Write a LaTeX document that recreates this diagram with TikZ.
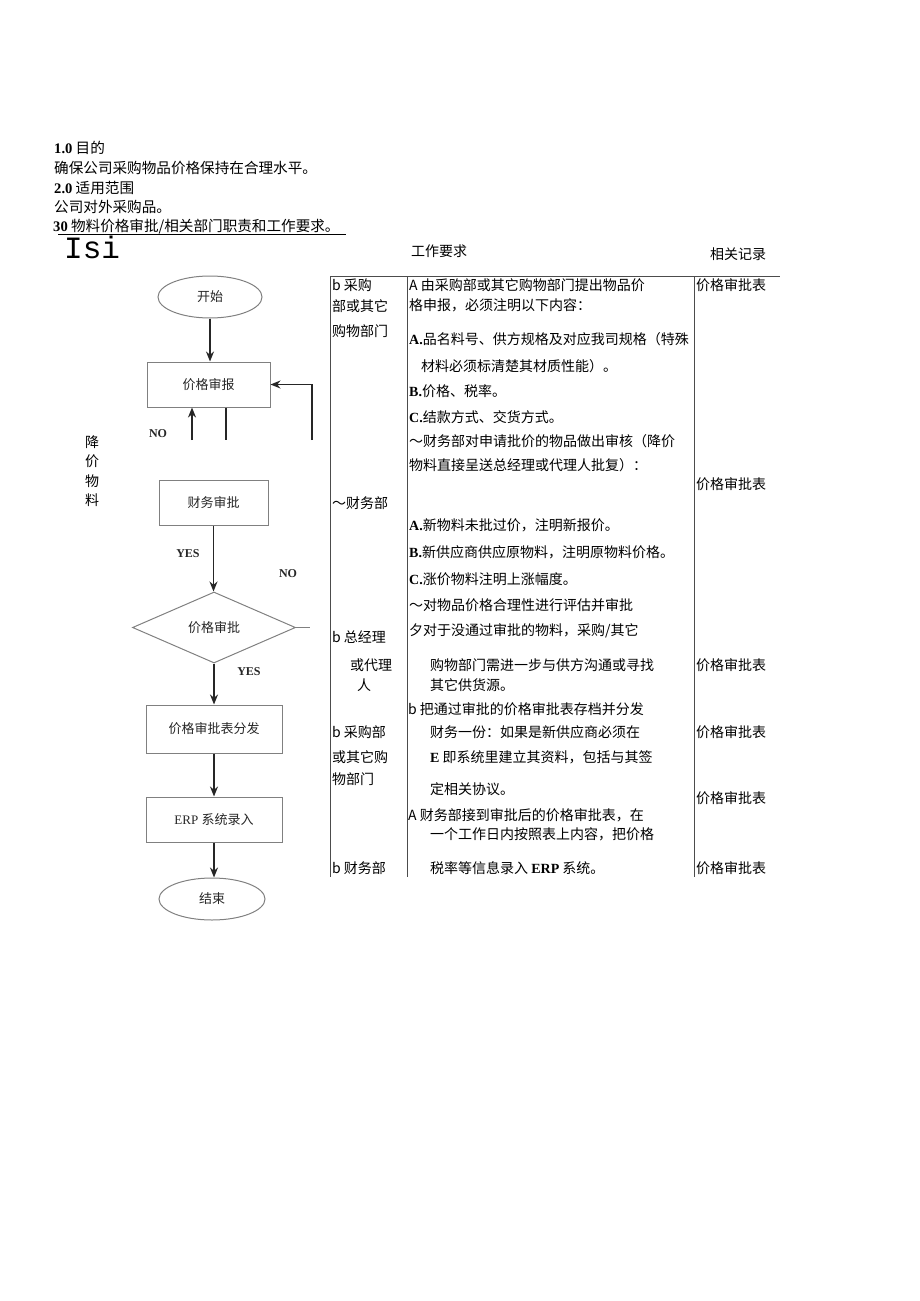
\documentclass[tikz,border=0pt]{standalone}
\usepackage{fontspec}
\setmainfont{Liberation Serif}
\setmonofont{Liberation Mono}
\newfontfamily\cjk{Noto Sans CJK SC}
\usetikzlibrary{arrows.meta,shapes.geometric}

\newcommand\lb[1]{{\rmfamily\bfseries #1}}

\begin{document}
\begin{tikzpicture}[x=1pt, y=-1pt,
    riga/.style={anchor=west, inner sep=0pt, font=\cjk\fontsize{14}{16}\selectfont},
    testa/.style={riga, font=\cjk\fontsize{14.6}{16}\selectfont},
    blocco/.style={draw=black!50, line width=1pt, inner sep=0pt,
        font=\cjk\fontsize{13}{15}\selectfont, text=black!85},
    freccia/.style={-{Stealth[length=10pt,width=8pt]}, line width=1.8pt, black!85},
    filo/.style={line width=1.8pt, black!85},
    esito/.style={inner sep=0pt, font=\rmfamily\bfseries\fontsize{12}{14}\selectfont, text=black!85},
    bordo/.style={line width=0.8pt, black!70}]

    \useasboundingbox (0,0) rectangle (920,1301);

    % -- Intestazione --
    \node[testa] (h1) at (54,148) {\lb{1.0} 目的};
    \node[testa] (h2) at (54,168) {确保公司采购物品价格保持在合理水平。};
    \node[testa] (h3) at (54,188) {\lb{2.0} 适用范围};
    \node[testa] (h4) at (54,207) {公司对外采购品。};
    \node[testa] (h5) at (53,227) {\lb{30} 物料价格审批/相关部门职责和工作要求。};
    \draw[line width=0.7pt] ([xshift=5pt]h5.south west) -- ([xshift=6pt]h5.south east);
    \node[anchor=west, inner sep=0pt, font=\ttfamily\fontsize{31}{31}\selectfont] (isi) at (64,247) {Isi};

    \node[riga] (k1) at (411,251) {工作要求};
    \node[riga] (k2) at (710,254) {相关记录};

    % -- Tabella --
    \draw[bordo] (330,276) -- (780,276);
    \foreach \x in {330,407,694}
        \draw[bordo] (\x,276) -- (\x,877);

    % colonna dei reparti
    \node[riga] (a1) at (332,285) {b 采购};
    \node[riga] (a2) at (332,306) {部或其它};
    \node[riga] (a3) at (332,331) {购物部门};
    \node[riga] (a4) at (332,503) {～财务部};
    \node[riga] (a5) at (332,637) {b 总经理};
    \node[riga] (a6) at (350,665) {或代理};
    \node[riga] (a7) at (357,685) {人};
    \node[riga] (a8) at (332,732) {b 采购部};
    \node[riga] (a9) at (332,757) {或其它购};
    \node[riga] (a10) at (332,779) {物部门};
    \node[riga] (a11) at (332,868) {b 财务部};

    % colonna dei requisiti
    \node[riga] (b1) at (409,285) {A 由采购部或其它购物部门提出物品价};
    \node[riga] (b2) at (409,305) {格申报，必须注明以下内容：};
    \node[riga] (b3) at (409,339) {\lb{A.}品名料号、供方规格及对应我司规格（特殊};
    \node[riga] (b4) at (421,366) {材料必须标清楚其材质性能）。};
    \node[riga] (b5) at (409,391) {\lb{B.}价格、税率。};
    \node[riga] (b6) at (409,417) {\lb{C.}结款方式、交货方式。};
    \node[riga] (b7) at (409,441) {～财务部对申请批价的物品做出审核（降价};
    \node[riga] (b8) at (409,465) {物料直接呈送总经理或代理人批复）：};
    \node[riga] (b9) at (409,525) {\lb{A.}新物料未批过价，注明新报价。};
    \node[riga] (b10) at (409,552) {\lb{B.}新供应商供应原物料，注明原物料价格。};
    \node[riga] (b11) at (409,579) {\lb{C.}涨价物料注明上涨幅度。};
    \node[riga] (b12) at (409,605) {～对物品价格合理性进行评估并审批};
    \node[riga] (b13) at (409,631) {夕对于没通过审批的物料，采购/其它};
    \node[riga] (b14) at (430,665) {购物部门需进一步与供方沟通或寻找};
    \node[riga] (b15) at (430,685) {其它供货源。};
    \node[riga] (b16) at (408,709) {b 把通过审批的价格审批表存档并分发};
    \node[riga] (b17) at (430,732) {财务一份：如果是新供应商必须在};
    \node[riga] (b18) at (430,757) {\lb{E} 即系统里建立其资料，包括与其签};
    \node[riga] (b19) at (430,789) {定相关协议。};
    \node[riga] (b20) at (408,815) {A 财务部接到审批后的价格审批表，在};
    \node[riga] (b21) at (430,834) {一个工作日内按照表上内容，把价格};
    \node[riga] (b22) at (430,868) {税率等信息录入 \lb{ERP} 系统。};

    % colonna dei record
    \foreach \y [count=\i] in {285,484,665,732,798,868}
        \node[riga] (c\i) at (696,\y) {价格审批表};

    % -- Diagramma di flusso --
    \node[blocco, ellipse, minimum width=104pt, minimum height=42pt] (start) at (210,297) {开始};
    \node[blocco, minimum width=123pt, minimum height=45pt] (report) at (208.5,384.5) {价格审报};
    \node[blocco, minimum width=109pt, minimum height=45pt] (finance) at (213.5,502.5) {财务审批};
    \node[blocco, diamond, minimum width=163pt, minimum height=71pt] (approve) at (214,627.5) {价格审批};
    \node[blocco, minimum width=136pt, minimum height=48pt] (distribute) at (214,729) {价格审批表分发};
    \node[blocco, minimum width=136pt, minimum height=45pt] (erp) at (214,819.5) {\rmfamily ERP \cjk 系统录入};
    \node[blocco, ellipse, minimum width=106pt, minimum height=42pt] (finish) at (212,899) {结束};

    \draw[freccia] (start) -- (start |- report.north);
    \draw[freccia] (finance.south) -- (finance.south |- approve.north);
    \draw[freccia] (approve.south) -- (approve.south |- distribute.north);
    \draw[freccia] (distribute) -- (erp);
    \draw[freccia] (erp.south) -- (erp.south |- finish.north);

    % rami di ritorno (interrotti)
    \coordinate (na) at (192,440);
    \coordinate (nb) at (226,440);
    \coordinate (nr) at (312,440);
    \coordinate (nc) at (310,627.5);
    \draw[freccia] (na) -- (na |- report.south);
    \draw[filo] (nb |- report.south) -- (nb);
    \draw[freccia] (nr) |- (report.east);
    \draw[line width=1pt, black!50] (approve.east) -- (nc);

    \node[esito] (no1) at (158,434) {NO};
    \node[esito] (yes1) at (188,554) {YES};
    \node[esito] (no2) at (288,574) {NO};
    \node[esito] (yes2) at (249,672) {YES};

    \node[inner sep=0pt, align=center, font=\cjk\fontsize{14}{19.5}\selectfont] (side) at (92,471) {降\\价\\物\\料};
\end{tikzpicture}
\end{document}
